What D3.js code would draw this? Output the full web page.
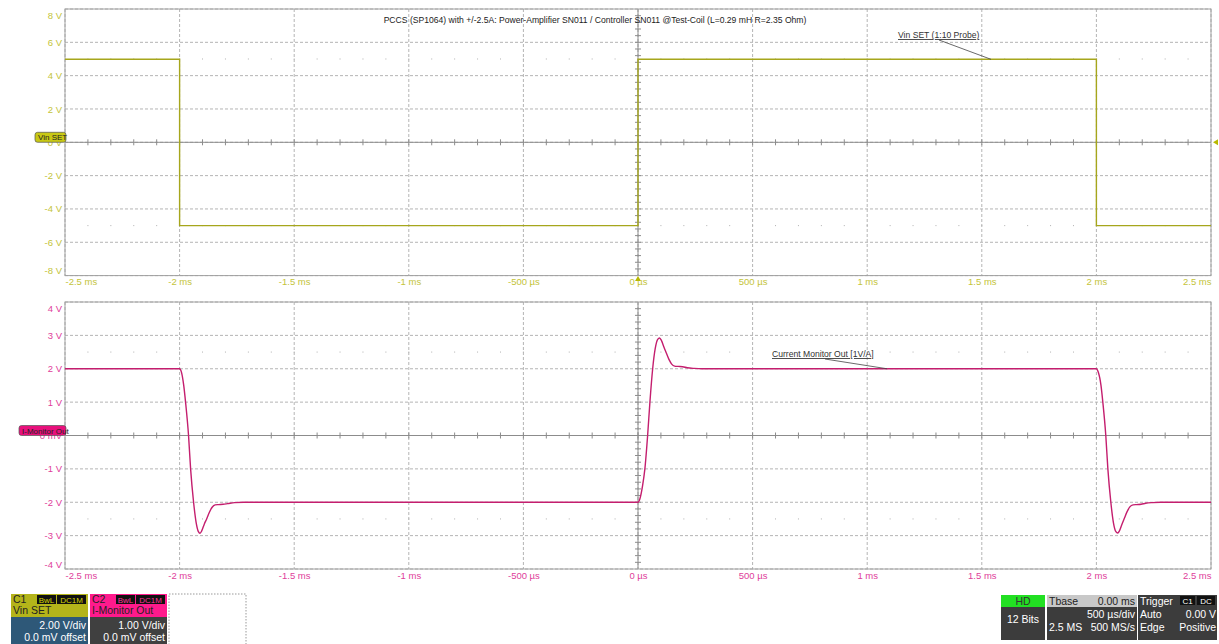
<!DOCTYPE html>
<html lang="en">
<head>
    <meta charset="utf-8">
    <script type="text/javascript" src="https://d3js.org/d3.v7.min.js"></script>
    <title>PCCS scope capture</title>
    <style>
        * { box-sizing: border-box; }
        html, body { margin: 0; padding: 0; background: white; }
        svg text { font-family: "Liberation Sans", Arial, sans-serif; }
    </style>
</head>
<body>
<div id="chart"></div>
<script type="text/javascript">

    // ---------- DATA ----------
    const timeTicks = [-2.5, -2, -1.5, -1, -0.5, 0, 0.5, 1, 1.5, 2, 2.5];
    const timeLabels = ["-2.5 ms", "-2 ms", "-1.5 ms", "-1 ms", "-500 µs", "0 µs", "500 µs", "1 ms", "1.5 ms", "2 ms", "2.5 ms"];

    const vinTicks = [8, 6, 4, 2, 0, -2, -4, -6, -8];
    const vinLabels = ["8 V", "6 V", "4 V", "2 V", "0 V", "-2 V", "-4 V", "-6 V", "-8 V"];
    const curTicks = [4, 3, 2, 1, 0, -1, -2, -3, -4];
    const curLabels = ["4 V", "3 V", "2 V", "1 V", "0 mV", "-1 V", "-2 V", "-3 V", "-4 V"];

    // C1: Vin SET square wave (ms, V)
    const vinT = [-2.5, -2.0, -2.0, 0, 0, 2.0, 2.0, 2.5];
    const vinV = [4.98, 4.98, -5.0, -5.0, 4.98, 4.98, -5.0, -5.0];

    // C2: I-Monitor Out (ms, V)
    const curT = [-2.5, -2.0, -1.992, -1.982, -1.974, -1.961, -1.952, -1.939, -1.928, -1.918, -1.911, -1.903, -1.892, -1.882, -1.87, -1.858, -1.845, -1.83, -1.81, -1.79, -1.76, -1.72,
                  0, 0.008, 0.02, 0.03, 0.042, 0.052, 0.064, 0.075, 0.086, 0.094, 0.102, 0.113, 0.123, 0.135, 0.147, 0.16, 0.175, 0.195, 0.215, 0.245, 0.28,
                  2.0, 2.008, 2.02, 2.028, 2.041, 2.05, 2.063, 2.074, 2.085, 2.093, 2.101, 2.112, 2.122, 2.134, 2.146, 2.16, 2.175, 2.195, 2.215, 2.245, 2.28, 2.5];
    const curV = [2.0, 2.0, 1.9, 1.5, 1.0, 0.0, -1.0, -2.0, -2.6, -2.88, -2.93, -2.85, -2.65, -2.5, -2.3, -2.15, -2.08, -2.07, -2.06, -2.04, -2.01, -2.0,
                  -2.0, -1.9, -1.5, -1.0, 0.0, 1.0, 2.0, 2.6, 2.88, 2.92, 2.85, 2.65, 2.48, 2.28, 2.14, 2.08, 2.07, 2.06, 2.03, 2.01, 2.0,
                  2.0, 1.9, 1.5, 1.0, 0.0, -1.0, -2.0, -2.6, -2.88, -2.92, -2.85, -2.65, -2.48, -2.28, -2.14, -2.08, -2.07, -2.06, -2.03, -2.01, -2.0, -2.0];

    const title = "PCCS (SP1064) with +/-2.5A: Power-Amplifier SN011 / Controller SN011 @Test-Coil (L=0.29 mH R=2.35 Ohm)";

    // ---------- LAYOUT ----------
    const W = 1219, H = 644;
    const left = 65, right = 1211;
    const yellow = "#c4c43a", yellowTrace = "#a6a61c";
    const pink = "#e0409a", pinkTrace = "#c41e6e";

    const svg = d3.select("#chart").append("svg")
        .attr("width", W).attr("height", H)
        .style("display", "block")
        .style("background", "white");

    const x = d3.scaleLinear().domain([-2.5, 2.5]).range([left, right]);

    function drawPanel(cfg) {
        const y = d3.scaleLinear().domain(cfg.domain).range([cfg.bottom, cfg.top]);
        const g = svg.append("g");

        // dashed grid
        g.selectAll(".hgrid").data(cfg.ticks).join("line")
            .attr("x1", left).attr("x2", right)
            .attr("y1", d => y(d)).attr("y2", d => y(d))
            .attr("stroke", "#b4b4b4").attr("stroke-dasharray", "3,2");
        g.selectAll(".vgrid").data(timeTicks).join("line")
            .attr("x1", d => x(d)).attr("x2", d => x(d))
            .attr("y1", cfg.top).attr("y2", cfg.bottom)
            .attr("stroke", "#b4b4b4").attr("stroke-dasharray", "3,2");

        // center cross with minor ticks
        const y0 = y(0), x0 = x(0);
        g.append("line").attr("x1", left).attr("x2", right).attr("y1", y0).attr("y2", y0).attr("stroke", "#8c8c8c");
        g.append("line").attr("x1", x0).attr("x2", x0).attr("y1", cfg.top).attr("y2", cfg.bottom).attr("stroke", "#8c8c8c");
        const minorT = d3.range(-2.4, 2.45, 0.1);
        g.selectAll(".mt").data(minorT).join("line")
            .attr("x1", d => x(d)).attr("x2", d => x(d))
            .attr("y1", y0 - 3).attr("y2", y0 + 3).attr("stroke", "#8c8c8c");
        const stepV = (cfg.domain[1] - cfg.domain[0]) / 40;
        const minorV = d3.range(cfg.domain[0] + stepV, cfg.domain[1] - stepV / 2, stepV);
        g.selectAll(".mv").data(minorV).join("line")
            .attr("x1", x0 - 3).attr("x2", x0 + 3)
            .attr("y1", d => y(d)).attr("y2", d => y(d)).attr("stroke", "#8c8c8c");

        // dotted markers
        [cfg.dotLevel, -cfg.dotLevel].forEach(lv => {
            g.selectAll(null).data(minorT).join("rect")
                .attr("x", d => x(d) - 0.5).attr("y", y(lv) - 0.5)
                .attr("width", 1).attr("height", 1).attr("fill", "#b0b0b0");
        });

        // frame
        g.append("rect").attr("x", left).attr("y", cfg.top)
            .attr("width", right - left).attr("height", cfg.bottom - cfg.top)
            .attr("fill", "none").attr("stroke", "#a0a0a0");

        // y axis labels
        const ya = g.append("g").attr("transform", `translate(${left - 3},0)`)
            .call(d3.axisLeft(y).tickValues(cfg.ticks).tickSize(0).tickPadding(0)
                .tickFormat((d, i) => cfg.labels[i]));
        ya.select(".domain").remove();
        ya.selectAll("text").attr("fill", cfg.color).style("font-size", "9.5px")
            .attr("dy", (d, i) => i === 0 ? "0.95em" : (i === cfg.ticks.length - 1 ? "-0.2em" : "0.32em"));

        // x axis labels
        const xa = g.append("g").attr("transform", `translate(0,${cfg.bottom + 3})`)
            .call(d3.axisBottom(x).tickValues(timeTicks).tickSize(0).tickPadding(0)
                .tickFormat((d, i) => timeLabels[i]));
        xa.select(".domain").remove();
        xa.selectAll("text").attr("fill", cfg.color).style("font-size", "9.5px")
            .attr("text-anchor", (d, i) => i === 0 ? "start" : (i === timeTicks.length - 1 ? "end" : "middle"));

        // trace
        const line = d3.line().x(d => x(d[0])).y(d => y(d[1])).curve(cfg.curve);
        g.append("path").datum(d3.zip(cfg.t, cfg.v))
            .attr("d", line).attr("fill", "none")
            .attr("stroke", cfg.trace).attr("stroke-width", 1.4);

        return y;
    }

    const yTop = drawPanel({
        top: 9, bottom: 275.6, domain: [-8, 8], ticks: vinTicks, labels: vinLabels,
        color: yellow, trace: yellowTrace, t: vinT, v: vinV, dotLevel: 5, curve: d3.curveLinear
    });
    const yBot = drawPanel({
        top: 302, bottom: 569, domain: [-4, 4], ticks: curTicks, labels: curLabels,
        color: pink, trace: pinkTrace, t: curT, v: curV, dotLevel: 2.5, curve: d3.curveMonotoneX
    });

    // title
    svg.append("text").attr("x", 595).attr("y", 23).attr("text-anchor", "middle")
        .style("font-size", "8.6px").attr("fill", "#222").text(title);

    // annotations
    svg.append("text").attr("x", 898).attr("y", 38).style("font-size", "8.6px")
        .attr("fill", "#333").attr("text-decoration", "underline").text("Vin SET (1:10 Probe)");
    svg.append("line").attr("x1", 939).attr("y1", 40).attr("x2", 991).attr("y2", yTop(4.98))
        .attr("stroke", "#444").attr("stroke-width", 0.8);
    svg.append("text").attr("x", 772).attr("y", 357).style("font-size", "8.6px")
        .attr("fill", "#333").attr("text-decoration", "underline").text("Current Monitor Out [1V/A]");
    svg.append("line").attr("x1", 825).attr("y1", 359).attr("x2", 887).attr("y2", yBot(2))
        .attr("stroke", "#444").attr("stroke-width", 0.8);

    // channel badges at 0 level
    function badge(xl, yc, w, fill, label) {
        svg.append("rect").attr("x", xl).attr("y", yc - 5).attr("width", w).attr("height", 10)
            .attr("rx", 2.5).attr("fill", fill).attr("stroke", "#555").attr("stroke-width", 0.7);
        svg.append("text").attr("x", xl + 3).attr("y", yc + 3).style("font-size", "8px")
            .attr("fill", "#222").text(label);
    }
    badge(35, yTop(0) - 5, 31, "#c8c814", "Vin SET");
    badge(19, yBot(0) - 5, 47, "#e8107c", "I-Monitor Out");

    // trigger markers
    svg.append("path").attr("d", `M${x(0) - 3},${281} L${x(0) + 3},${281} L${x(0)},${276} Z`).attr("fill", "#b8b800");
    svg.append("path").attr("d", `M1213,${yTop(0)} L1218,${yTop(0) - 3} L1218,${yTop(0) + 3} Z`).attr("fill", "#b8b800");

    // ---------- INFO BOXES ----------
    const info = svg.append("g").style("font-size", "10.5px");
    function tag(xl, yt, w, txt, col) {
        info.append("rect").attr("x", xl).attr("y", yt).attr("width", w).attr("height", 9).attr("fill", "#111");
        info.append("text").attr("x", xl + w / 2).attr("y", yt + 7.5).attr("text-anchor", "middle")
            .style("font-size", "8px").attr("fill", col).text(txt);
    }
    function chanBox(xl, topFill, botFill, ch, name, tagCol, vdiv) {
        info.append("rect").attr("x", xl).attr("y", 594).attr("width", 77).attr("height", 23).attr("fill", topFill);
        info.append("rect").attr("x", xl).attr("y", 617).attr("width", 77).attr("height", 27).attr("fill", botFill);
        info.append("text").attr("x", xl + 2).attr("y", 603).attr("fill", "#222").text(ch);
        tag(xl + 26, 595, 19, "BwL", tagCol);
        tag(xl + 46, 595, 29, "DC1M", tagCol);
        info.append("text").attr("x", xl + 2).attr("y", 614).attr("fill", "#222").text(name);
        info.append("text").attr("x", xl + 75).attr("y", 629).attr("text-anchor", "end").attr("fill", "white").text(vdiv);
        info.append("text").attr("x", xl + 75).attr("y", 641).attr("text-anchor", "end").attr("fill", "white").text("0.0 mV offset");
    }
    chanBox(11, "#b4b41a", "#2e5878", "C1", "Vin SET", "#d8d800", "2.00 V/div");
    chanBox(90, "#ff1a8c", "#404040", "C2", "I-Monitor Out", "#ff3399", "1.00 V/div");
    info.append("rect").attr("x", 169).attr("y", 594).attr("width", 77).attr("height", 52)
        .attr("fill", "none").attr("stroke", "#999").attr("stroke-dasharray", "1.5,1.5");

    // HD box
    info.append("rect").attr("x", 1001).attr("y", 595).attr("width", 44).attr("height", 12).attr("fill", "#22e022");
    info.append("rect").attr("x", 1001).attr("y", 607).attr("width", 44).attr("height", 33).attr("fill", "#3c3c3c");
    info.append("text").attr("x", 1023).attr("y", 604.5).attr("text-anchor", "middle").attr("fill", "#333").text("HD");
    info.append("text").attr("x", 1023).attr("y", 623).attr("text-anchor", "middle").attr("fill", "white").text("12 Bits");
    // Tbase box
    info.append("rect").attr("x", 1047).attr("y", 595).attr("width", 90).attr("height", 12).attr("fill", "#c8c8c8");
    info.append("rect").attr("x", 1047).attr("y", 607).attr("width", 90).attr("height", 33).attr("fill", "#3c3c3c");
    info.append("text").attr("x", 1049).attr("y", 604.5).attr("fill", "#222").text("Tbase");
    info.append("text").attr("x", 1135).attr("y", 604.5).attr("text-anchor", "end").attr("fill", "#222").text("0.00 ms");
    info.append("text").attr("x", 1135).attr("y", 618).attr("text-anchor", "end").attr("fill", "white").text("500 µs/div");
    info.append("text").attr("x", 1049).attr("y", 631).attr("fill", "white").text("2.5 MS");
    info.append("text").attr("x", 1135).attr("y", 631).attr("text-anchor", "end").attr("fill", "white").text("500 MS/s");
    // Trigger box
    info.append("rect").attr("x", 1138).attr("y", 595).attr("width", 79).attr("height", 45).attr("fill", "#3c3c3c");
    info.append("text").attr("x", 1140).attr("y", 604.5).attr("fill", "white").text("Trigger");
    tag(1180, 596, 15, "C1", "white");
    tag(1197, 596, 18, "DC", "white");
    info.append("text").attr("x", 1140).attr("y", 618).attr("fill", "white").text("Auto");
    info.append("text").attr("x", 1216).attr("y", 618).attr("text-anchor", "end").attr("fill", "white").text("0.00 V");
    info.append("text").attr("x", 1140).attr("y", 631).attr("fill", "white").text("Edge");
    info.append("text").attr("x", 1216).attr("y", 631).attr("text-anchor", "end").attr("fill", "white").text("Positive");

</script>
</body>
</html>
